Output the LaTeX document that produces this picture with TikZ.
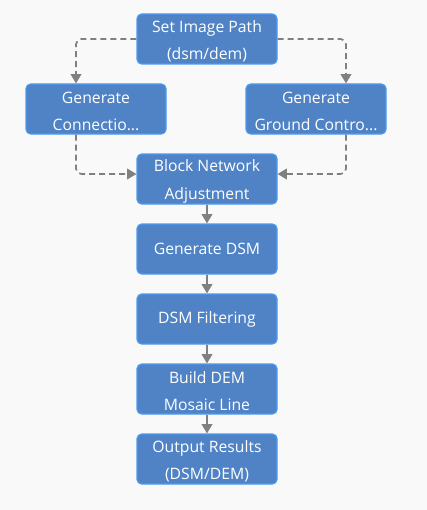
\documentclass[tikz,border=0pt]{standalone}
\usepackage{fontspec}
\setmainfont{Open Sans}
\usetikzlibrary{arrows.meta}
\definecolor{boxfill}{HTML}{5083C5}
\definecolor{boxline}{HTML}{4C9BF2}
\definecolor{arr}{HTML}{808080}
\definecolor{bg}{HTML}{F9F9F9}
\newcommand{\toppad}{\rule{0pt}{12.6pt}}
\begin{document}
\begin{tikzpicture}[x=0.75pt,y=-0.75pt,
  box/.style={draw=boxline, fill=boxfill, line width=0.9pt, rounded corners=3.5pt,
    minimum width=105pt, minimum height=37.5pt, text=white, align=center,
    font=\fontsize{11.8pt}{20.3pt}\selectfont, inner sep=0pt},
  conn/.style={draw=arr, line width=1.3pt, -{Triangle[length=7pt,width=8pt]}},
  dconn/.style={conn, dash pattern=on 4.5pt off 3pt, rounded corners=4pt}]
\fill[bg] (0,0) rectangle (427,510);
\useasboundingbox (0,0) rectangle (427,510);
\node[box] (a) at (207,39) {\toppad Set Image Path\\(dsm/dem)};
\node[box] (b) at (96,109) {\toppad Generate\\Connectio...};
\node[box] (c) at (316,109) {\toppad Generate\\Ground Contro...};
\node[box] (d) at (207,179) {\toppad Block Network\\Adjustment};
\node[box] (e) at (207,249) {Generate DSM};
\node[box] (f) at (207,319) {DSM Filtering};
\node[box] (g) at (207,389) {\toppad Build DEM\\Mosaic Line};
\node[box] (h) at (207,459) {\toppad Output Results\\(DSM/DEM)};
\draw[dconn] (a.west |- 0,39) -| (76,0 |- b.north);
\draw[dconn] (a.east |- 0,39) -| (346,0 |- c.north);
\draw[dconn] (76,0 |- b.south) |- (d.west |- 0,174);
\draw[dconn] (346,0 |- c.south) |- (d.east |- 0,174);
\draw[conn] (d) -- (e);
\draw[conn] (e) -- (f);
\draw[conn] (f) -- (g);
\draw[conn] (g) -- (h);
\end{tikzpicture}
\end{document}
